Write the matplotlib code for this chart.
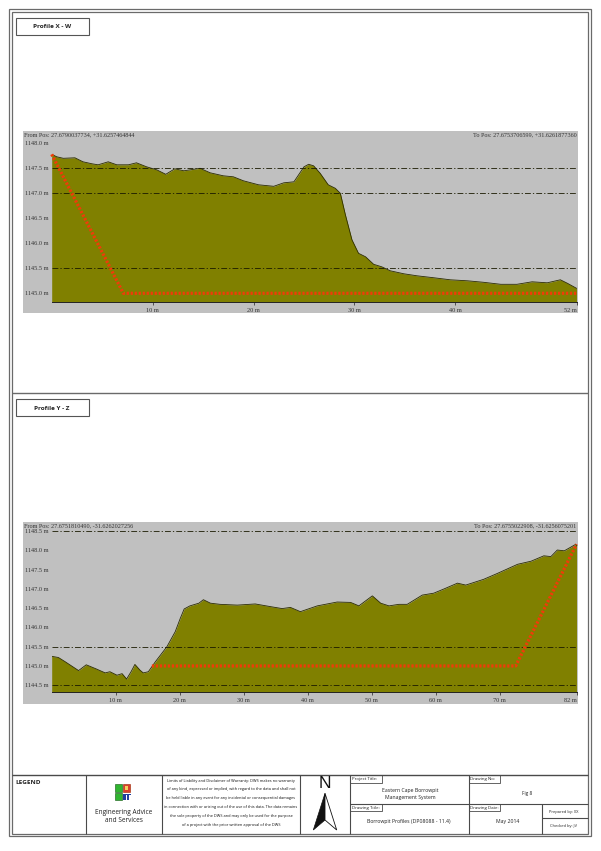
import matplotlib
matplotlib.use("Agg")
import matplotlib.pyplot as plt
from matplotlib.patches import Rectangle, Polygon

W, H = 601, 851

# ---------- data ----------
xw_dist = [0, .5, 1.15, 2.3, 3.1, 4, 4.6, 5.6, 6.45, 7.6, 8.4, 9.4, 10.4, 11.3, 12.2, 13.1, 14.7, 15.7, 17, 18,
           19, 20.5, 22, 23, 24, 24.5, 25, 25.46, 25.95, 26.6, 27.4, 28.1, 28.6, 29.1, 29.75, 30.4, 31.1, 31.9,
           32.7, 33.55, 34.9, 36.2, 37.9, 39.5, 41.2, 42.8, 44.5, 46.1, 47.6, 49.1, 50.4, 51.1, 52]
xw_elev = [1147.78, 1147.73, 1147.7, 1147.71, 1147.63, 1147.59, 1147.57, 1147.63, 1147.57, 1147.57, 1147.61,
           1147.53, 1147.47, 1147.38, 1147.49, 1147.45, 1147.5, 1147.41, 1147.35, 1147.33, 1147.25, 1147.17,
           1147.14, 1147.21, 1147.23, 1147.38, 1147.53, 1147.58, 1147.55, 1147.40, 1147.17, 1147.1, 1147.0,
           1146.57, 1146.07, 1145.8, 1145.73, 1145.58, 1145.53, 1145.45, 1145.39, 1145.35, 1145.31, 1145.27,
           1145.25, 1145.22, 1145.18, 1145.18, 1145.23, 1145.21, 1145.27, 1145.2, 1145.1]
xw_cut_dist = [0, 7.1, 52]
xw_cut_elev = [1147.78, 1145.0, 1145.0]
xw_yticks = [1148.0, 1147.5, 1147.0, 1146.5, 1146.0, 1145.5, 1145.0]
xw_grid = [1147.5, 1147.0, 1145.5]
xw_xticks = [10, 20, 30, 40, 52]

yz_dist = [0, 1.04, 2.1, 4.2, 5.4, 7, 8.35, 9.1, 10.2, 11, 11.7, 12.4, 13, 13.8, 14.3, 15.1, 16.2, 18, 19.3, 20.1,
           20.7, 21.6, 23, 23.7, 24.8, 26.3, 29, 31.8, 34.2, 36, 37.3, 38.86, 41.5, 44.6, 46.7, 48, 50.1, 51.4,
           52.7, 54.25, 55.55, 57.9, 59.7, 61.3, 63.4, 64.7, 67.5, 69.6, 72.8, 74.9, 76.9, 78, 79, 80.1, 81.9, 82]
yz_elev = [1145.25, 1145.22, 1145.11, 1144.88, 1145.03, 1144.92, 1144.82, 1144.85, 1144.76, 1144.8, 1144.66,
           1144.85, 1145.04, 1144.89, 1144.82, 1144.85, 1145.11, 1145.5, 1145.89, 1146.24, 1146.48, 1146.56,
           1146.63, 1146.72, 1146.63, 1146.6, 1146.58, 1146.61, 1146.54, 1146.49, 1146.52, 1146.41, 1146.56,
           1146.66, 1146.65, 1146.56, 1146.82, 1146.63, 1146.56, 1146.6, 1146.6, 1146.84, 1146.89, 1147.0,
           1147.15, 1147.1, 1147.25, 1147.4, 1147.64, 1147.72, 1147.86, 1147.84, 1148.01, 1147.99, 1148.16, 1148.12]
yz_cut_dist = [15.65, 72.5, 82]
yz_cut_elev = [1145.0, 1145.0, 1148.16]
yz_yticks = [1148.5, 1148.0, 1147.5, 1147.0, 1146.5, 1146.0, 1145.5, 1145.0, 1144.5]
yz_grid = [1148.5, 1145.5, 1144.5]
yz_xticks = [10, 20, 30, 40, 50, 60, 70, 82]

xw_from = "From Pos: 27.6790037734, +31.6257464844"
xw_to = "To Pos: 27.6753706599, +31.6261877360"
yz_from = "From Pos: 27.6751810490, -31.6262027256"
yz_to = "To Pos: 27.6755022908, -31.6256075201"
disclaimer = ["Limits of Liability and Disclaimer of Warranty: DWS makes no warranty",
              "of any kind, expressed or implied, with regard to the data and shall not",
              "be held liable in any event for any incidental or consequential damages",
              "in connection with or arising out of the use of this data. The data remains",
              "the sole property of the DWS and may only be used for the purpose",
              "of a project with the prior written approval of the DWS"]

# ---------- page ----------
fig = plt.figure(figsize=(W / 100, H / 100), dpi=100, facecolor="white")
pg = fig.add_axes([0, 0, 1, 1], zorder=0)
pg.set_xlim(0, W)
pg.set_ylim(H, 0)
pg.axis("off")

FR = "#6a6a6a"
LN = "#4a4a4a"
OLIVE = "#808000"
GRAY = "#c0c0c0"
RED = "#f03c08"
SERIF = "Liberation Serif"
SANS = "Open Sans"


def box(x0, y0, x1, y1, ec=LN, lw=0.8, fc="none", z=2):
    pg.add_patch(Rectangle((x0, y0), x1 - x0, y1 - y0, ec=ec, fc=fc, lw=lw, zorder=z))


def hl(y, x0, x1, c=LN, lw=0.8):
    pg.plot([x0, x1], [y, y], color=c, lw=lw, solid_capstyle="butt", zorder=2)


def vl(x, y0, y1, c=LN, lw=0.8):
    pg.plot([x, x], [y0, y1], color=c, lw=lw, solid_capstyle="butt", zorder=2)


def txt(x, y, s, size=4, ha="center", weight="normal", family=SANS, color="#222222"):
    pg.text(x, y, s, fontsize=size, ha=ha, va="center", fontweight=weight, family=family, color=color, zorder=5)


box(9.3, 9.3, 590.7, 836, ec=FR, lw=0.9)
box(12.3, 12.3, 587.7, 834, ec=FR, lw=0.9)
hl(393, 12.3, 587.7, c=FR, lw=1)

box(16, 17.5, 89.3, 35.3, ec="#555555", lw=0.8)
txt(52, 26.7, "Profile X - W", size=4.6, weight="bold")
box(16, 398.5, 89.3, 416, ec="#555555", lw=0.8)
txt(52, 408, "Profile Y - Z", size=4.6, weight="bold")


def profile(top, bottom, ylim, dist, elev, cut_d, cut_e, yticks, grid, xticks, xmax, left_txt, right_txt, head_y, lab_off):
    pg.add_patch(Rectangle((23.3, top), 555, bottom + (11 if xmax == 52 else 11.7) - top, fc=GRAY, ec="none", zorder=1))
    ax = fig.add_axes([51.7 / W, 1 - bottom / H, (576.5 - 51.7) / W, (bottom - top) / H], zorder=2)
    ax.patch.set_alpha(0)
    ax.set_xlim(0, xmax)
    ax.set_ylim(*ylim)
    ax.fill_between(dist, elev, ylim[0], color=OLIVE, lw=0, zorder=1)
    ax.plot(dist, elev, color="#2c2c00", lw=0.6, zorder=2)
    for g in grid:
        ax.axhline(g, color="#1a1a00", lw=0.6, ls=(0, (7, 2.5, 1.5, 2.5)), zorder=3)
    ax.plot(cut_d, cut_e, color=RED, lw=2.3, ls=(0, (0.7, 0.55)), zorder=4, clip_on=False)
    for s in ("top", "left", "right"):
        ax.spines[s].set_visible(False)
    ax.spines["bottom"].set_color("#222222")
    ax.spines["bottom"].set_linewidth(0.7)
    ax.set_yticks(yticks)
    ax.set_yticklabels([f"{v:.1f} m" for v in yticks], fontsize=4.5, family=SERIF, color="#333333")
    ax.tick_params(axis="y", length=0, pad=2.2)
    ax.set_xticks(xticks)
    ax.set_xticklabels([f"{v} m" for v in xticks], fontsize=4.5, family=SERIF, color="#333333")
    ax.tick_params(axis="x", length=2, width=0.5, pad=lab_off, color="#222222")
    ax.get_xticklabels()[-1].set_ha("right")
    txt(24, head_y, left_txt, size=4.4, ha="left", family=SERIF, color="#333333")
    txt(576.7, head_y, right_txt, size=4.4, ha="right", family=SERIF, color="#333333")


profile(131, 301.7, (1144.832, 1148.246), xw_dist, xw_elev, xw_cut_dist, xw_cut_elev,
        xw_yticks, xw_grid, xw_xticks, 52, xw_from, xw_to, 135, 2.2)
profile(522.3, 692.3, (1144.316, 1148.73), yz_dist, yz_elev, yz_cut_dist, yz_cut_elev,
        yz_yticks, yz_grid, yz_xticks, 82, yz_from, yz_to, 525.7, 2.2)

# ---------- title block ----------
hl(775.3, 12.3, 587.7, c=LN, lw=1)
for x in (86, 161.7, 300, 350, 469):
    vl(x, 775.3, 834)
vl(542, 804, 834)
hl(804, 350, 587.7)
hl(818, 542, 587.7)
for x0, x1, y0, y1, s in [(350, 381.7, 775.3, 782.7, "Project Title:"),
                          (350, 381.7, 804, 811.3, "Drawing Title:"),
                          (469, 500, 775.3, 782.7, "Drawing No:"),
                          (469, 500, 804, 811.3, "Drawing Date:")]:
    box(x0, y0, x1, y1, lw=0.6)
    txt(x0 + 1.5, (y0 + y1) / 2, s, size=3.2, ha="left")

txt(15, 783, "LEGEND", size=4.6, ha="left", weight="bold")
txt(123.5, 812, "Engineering Advice", size=4.7)
txt(123.5, 821, "and Services", size=4.7)

box(115, 784, 122.3, 791.7, ec="#115511", fc="#2fb52f", lw=0.4)
box(115, 792.7, 122.3, 800, ec="#115511", fc="#2fb52f", lw=0.4)
box(123.3, 784.3, 130, 791.5, ec="#992200", fc="#d8402a", lw=0.4)
pg.add_patch(Rectangle((125.3, 786), 2.8, 4, fc="#f3d060", ec="none", zorder=3))
box(123.3, 793.5, 125.5, 800, ec="none", fc="#1f3f9f", lw=0)
box(126.5, 793.5, 128.5, 800, ec="none", fc="#1f3f9f", lw=0)
box(123.3, 793.5, 131, 795, ec="none", fc="#1f3f9f", lw=0)

for y, line in zip([780.7, 789, 798, 807, 816, 825], disclaimer):
    txt(231, y, line, size=2.75, color="#111111")

txt(325, 784, "N", size=12.5, family="Liberation Sans", color="#111111")
pg.add_patch(Polygon([(325, 793.3), (313.3, 830), (325, 820)], fc="#111111", ec="#111111", lw=0.5, zorder=3))
pg.add_patch(Polygon([(325, 793.3), (336.7, 830), (325, 820)], fc="white", ec="#111111", lw=0.6, zorder=3))

txt(410, 790.3, "Eastern Cape Borrowpit", size=3.7)
txt(410, 798, "Management System", size=3.7)
txt(409, 821, "Borrowpit Profiles (DP08088 - 11.4)", size=3.7)
txt(527, 793, "Fig 8", size=3.4)
txt(508, 821.7, "May 2014", size=3.7)
txt(564, 811.5, "Prepared by: XX", size=2.9)
txt(564, 825.7, "Checked by: JV", size=2.9)

fig.savefig("out.png", dpi=100, facecolor="white")
